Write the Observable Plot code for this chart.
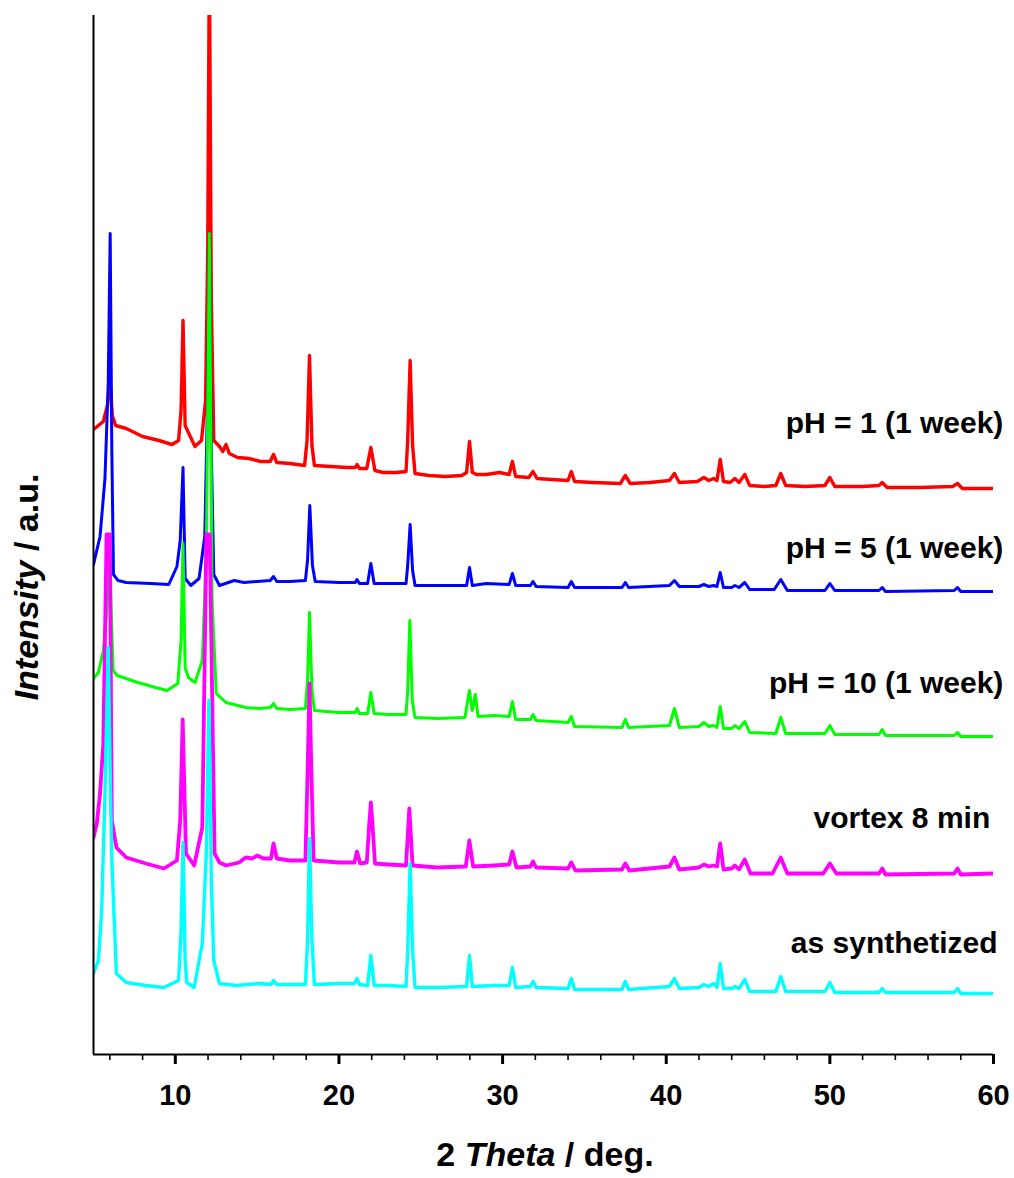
<!DOCTYPE html>
<html><head><meta charset="utf-8">
<script src="https://cdn.jsdelivr.net/npm/d3@7"></script>
<script src="https://cdn.jsdelivr.net/npm/@observablehq/plot@0.6"></script>
<style>
body{margin:0;background:#fff}
svg{font-family:"Liberation Sans",Arial,sans-serif}
</style>
</head><body><div id="chart"></div>
<script>
// ---- data: [2θ (deg), stacked intensity (a.u.)] ----
const seriesNames = ["pH = 1 (1 week)", "pH = 5 (1 week)", "pH = 10 (1 week)", "vortex 8 min", "as synthetized"];
const seriesColors = ["#ff0000", "#0000ff", "#00ff00", "#ff00ff", "#00ffff"];

const pH1 = [[5.0,625],[5.6,633],[5.85,649],[6.0,677],[6.15,639],[6.35,629],[7.0,626],[8.0,618],[9.0,614],[9.8,610],[10.2,614],[10.35,644],[10.47,734],[10.6,629],[10.8,622],[11.2,608],[11.6,614],[11.85,654],[11.98,804],[12.08,1100],[12.2,754],[12.35,614],[12.7,608],[12.9,603],[13.1,610],[13.3,601],[13.8,597],[14.5,596],[15.2,593],[15.8,593],[16.0,600],[16.2,592],[17.0,591],[17.9,589],[18.05,614],[18.2,699],[18.35,609],[18.5,589],[19.5,588],[20.5,587],[21.0,587],[21.1,590],[21.25,586],[21.7,586],[21.95,607],[22.2,584],[22.7,582],[23.5,582],[24.1,583],[24.2,614],[24.35,694],[24.5,609],[24.65,581],[25.5,579],[26.5,578],[27.5,579],[27.8,582],[27.98,613],[28.15,582],[28.4,580],[29.0,580],[29.8,582],[30.4,580],[30.6,593],[30.8,578],[31.6,577],[31.86,583],[32.1,576],[33.0,575],[34.0,574],[34.2,583],[34.4,573],[35.5,572],[37.2,571],[37.5,579],[37.8,571],[39.0,572],[40.2,574],[40.5,581],[40.8,572],[41.9,573],[42.3,577],[42.6,574],[42.9,576],[43.1,574],[43.3,595],[43.5,573],[43.9,572],[44.2,576],[44.45,572],[44.8,580],[45.1,569],[46.0,568],[46.7,569],[47.0,581],[47.3,569],[48.5,568],[49.7,569],[50.0,577],[50.3,568],[52.0,568],[53.0,569],[53.2,572],[53.5,567],[55.5,567],[57.5,568],[57.8,571],[58.1,566],[60.0,566]];

const pH5 = [[5.0,490],[5.4,518],[5.7,576],[5.9,671],[6.02,821],[6.12,604],[6.22,480],[6.5,474],[7.0,472],[8.5,471],[9.6,470],[10.1,488],[10.3,514],[10.47,587],[10.6,476],[10.95,469],[11.45,476],[11.8,518],[11.97,654],[12.08,821],[12.2,604],[12.35,480],[12.7,469],[13.6,474],[14.2,472],[15.0,473],[15.8,474],[16.0,478],[16.2,473],[17.0,473],[17.95,474],[18.08,494],[18.22,549],[18.38,489],[18.55,473],[20.0,472],[21.0,472],[21.1,475],[21.25,471],[21.75,471],[21.95,491],[22.15,471],[23.0,471],[24.1,471],[24.2,489],[24.35,530],[24.5,484],[24.65,469],[26.0,469],[27.8,469],[27.98,487],[28.15,469],[29.0,471],[30.4,470],[30.6,481],[30.8,469],[31.7,469],[31.86,473],[32.05,468],[34.0,467],[34.2,473],[34.4,467],[37.3,467],[37.5,472],[37.7,467],[40.2,469],[40.5,474],[40.8,468],[42.0,468],[42.3,470],[42.6,468],[42.9,469],[43.1,468],[43.3,482],[43.5,467],[44.0,467],[44.2,469],[44.45,467],[44.8,472],[45.1,465],[46.6,465],[47.0,475],[47.4,464],[49.7,464],[50.0,471],[50.3,464],[53.0,464],[53.2,467],[53.4,463],[57.6,464],[57.8,467],[58.0,463],[60.0,463]];

const pH10 = [[5.0,376],[5.3,382],[5.6,404],[5.82,444],[5.98,501],[6.1,434],[6.2,384],[6.45,379],[7.7,372],[8.8,367],[9.5,364],[10.15,371],[10.35,414],[10.47,511],[10.6,387],[10.8,377],[11.2,372],[11.65,394],[11.9,504],[12.08,821],[12.25,454],[12.5,361],[13.1,352],[14.3,347],[15.1,346],[15.8,347],[16.0,351],[16.2,346],[17.0,345],[17.95,346],[18.08,374],[18.2,442],[18.35,364],[18.5,344],[20.0,342],[21.0,342],[21.1,346],[21.25,341],[21.75,341],[21.95,362],[22.15,341],[23.0,340],[24.1,340],[24.2,364],[24.33,434],[24.48,354],[24.65,337],[26.0,336],[27.7,337],[27.97,364],[28.15,344],[28.33,360],[28.5,338],[29.5,339],[30.4,338],[30.6,353],[30.8,335],[31.7,335],[31.86,340],[32.05,334],[34.0,332],[34.2,338],[34.4,328],[37.3,327],[37.5,335],[37.7,327],[40.2,329],[40.5,346],[40.8,327],[42.0,328],[42.3,332],[42.6,328],[42.9,329],[43.1,327],[43.3,348],[43.5,326],[44.0,326],[44.2,329],[44.45,326],[44.8,333],[45.1,322],[46.7,321],[47.0,337],[47.3,321],[49.7,321],[50.0,329],[50.3,320],[53.0,320],[53.2,325],[53.4,319],[57.6,319],[57.8,322],[58.0,318],[60.0,318]];

const vortex = [[5.0,217],[5.2,231],[5.4,261],[5.6,311],[5.8,520],[6.0,520],[6.12,234],[6.4,207],[7.0,197],[8.2,191],[9.3,186],[10.1,194],[10.3,234],[10.45,335],[10.65,201],[11.15,189],[11.65,227],[11.9,520],[12.1,520],[12.4,201],[12.7,192],[13.1,189],[13.9,192],[14.3,197],[14.7,196],[15.0,199],[15.4,196],[15.85,196],[16.0,211],[16.2,196],[17.0,194],[17.95,194],[18.1,294],[18.2,371],[18.3,294],[18.45,194],[20.0,192],[20.95,192],[21.1,203],[21.3,191],[21.7,192],[21.85,230],[21.95,252],[22.05,230],[22.2,191],[23.0,190],[24.1,189],[24.3,246],[24.5,189],[26.0,187],[27.75,188],[27.97,214],[28.2,188],[29.5,189],[30.4,190],[30.6,203],[30.85,187],[31.7,188],[31.86,193],[32.05,187],[34.0,186],[34.2,192],[34.45,184],[37.3,185],[37.5,191],[37.75,184],[40.2,188],[40.5,197],[40.8,185],[42.0,187],[42.3,190],[42.6,188],[42.9,189],[43.1,188],[43.3,211],[43.5,185],[44.0,186],[44.2,189],[44.45,185],[44.8,195],[45.15,181],[46.5,181],[47.0,197],[47.4,181],[49.6,181],[50.0,191],[50.4,181],[53.0,181],[53.2,186],[53.4,180],[57.6,181],[57.8,186],[58.0,180],[60.0,181]];

const synthetized = [[5.0,81],[5.3,94],[5.5,144],[5.7,261],[5.9,407],[6.05,254],[6.12,194],[6.4,81],[7.0,72],[8.2,69],[9.3,67],[10.2,74],[10.35,124],[10.47,212],[10.6,94],[10.7,72],[11.15,67],[11.65,111],[11.9,204],[12.05,354],[12.2,174],[12.35,94],[12.7,71],[13.7,69],[15.1,71],[15.85,70],[16.0,74],[16.2,70],[17.0,70],[17.95,70],[18.08,114],[18.2,216],[18.35,114],[18.5,70],[20.0,71],[20.95,71],[21.1,76],[21.25,70],[21.75,69],[21.95,99],[22.15,69],[23.0,69],[24.1,68],[24.2,104],[24.35,191],[24.5,104],[24.65,67],[26.0,67],[27.8,68],[27.98,99],[28.15,68],[29.5,69],[30.4,69],[30.6,87],[30.8,67],[31.7,68],[31.86,73],[32.05,67],[34.0,66],[34.2,76],[34.4,65],[37.3,65],[37.5,73],[37.7,65],[40.2,68],[40.5,76],[40.8,66],[42.0,67],[42.3,70],[42.6,68],[42.9,71],[43.1,67],[43.3,91],[43.5,66],[44.0,66],[44.2,68],[44.45,66],[44.8,75],[45.1,63],[46.7,63],[47.0,78],[47.3,63],[49.7,63],[50.0,72],[50.3,62],[53.0,62],[53.2,66],[53.4,62],[57.6,62],[57.8,66],[58.0,61],[60.0,61]];

const seriesData = [pH1, pH5, pH10, vortex, synthetized];
const seriesWidths = [3.4, 3, 3, 3.8, 3.4];

// label anchor positions (2θ, a.u.)
const labelX = [60.6, 60.6, 60.6, 59.8, 60.25];
const labelY = [622, 497, 362, 227, 102];

const majorTicks = [10, 20, 30, 40, 50, 60];
const minorTicks = [6, 8, 12, 14, 16, 18, 22, 24, 26, 28, 32, 34, 36, 38, 42, 44, 46, 48, 52, 54, 56, 58];

const lineMarks = seriesData.map((pts, k) =>
  Plot.line(pts, {x: d => d[0], y: d => d[1], stroke: seriesColors[k], strokeWidth: seriesWidths[k],
    clip: true, strokeLinejoin: "round", strokeLinecap: "round"}));

const chart = Plot.plot({
  width: 1014, height: 1178,
  marginLeft: 93, marginRight: 21, marginTop: 15, marginBottom: 124,
  x: {domain: [5, 60]},
  y: {domain: [0, 1039], axis: null},
  style: {fontFamily: '"Liberation Sans", Arial, sans-serif', fontWeight: "bold", background: "white", color: "black"},
  marks: [
    ...lineMarks,
    Plot.ruleX([5], {stroke: "black", strokeWidth: 2}),
    Plot.ruleY([0], {stroke: "black", strokeWidth: 2}),
    Plot.axisX({ticks: majorTicks, tickSize: 10, tickPadding: 20, fontSize: 29, fontWeight: "bold", strokeWidth: 3, label: null, tickFormat: d => String(d)}),
    Plot.axisX({ticks: minorTicks, tickSize: 6, text: null, strokeWidth: 1.6, label: null}),
    Plot.text(seriesNames, {x: (d, i) => labelX[i], y: (d, i) => labelY[i], text: d => d,
      textAnchor: "end", fontSize: 30, fontWeight: "bold", fill: "black", lineAnchor: "bottom"})
  ]
});
document.getElementById("chart").appendChild(chart);

// axis titles with mixed italic
const svg = d3.select(chart);
const xs = chart.scale("x");
const xt = svg.append("text")
  .attr("x", (xs.apply(5) + xs.apply(60)) / 2 + 2)
  .attr("y", 1166)
  .attr("text-anchor", "middle")
  .attr("font-size", 34).attr("font-weight", "bold").attr("fill", "black");
xt.append("tspan").text("2 ");
xt.append("tspan").attr("font-style", "italic").text("Theta");
xt.append("tspan").text(" / deg.");

const yt = svg.append("text")
  .attr("transform", "translate(38,587) rotate(-90)")
  .attr("text-anchor", "middle")
  .attr("font-size", 34).attr("font-weight", "bold").attr("fill", "black");
yt.append("tspan").attr("font-style", "italic").text("Intensity");
yt.append("tspan").text(" / a.u.");
</script>
</body></html>
